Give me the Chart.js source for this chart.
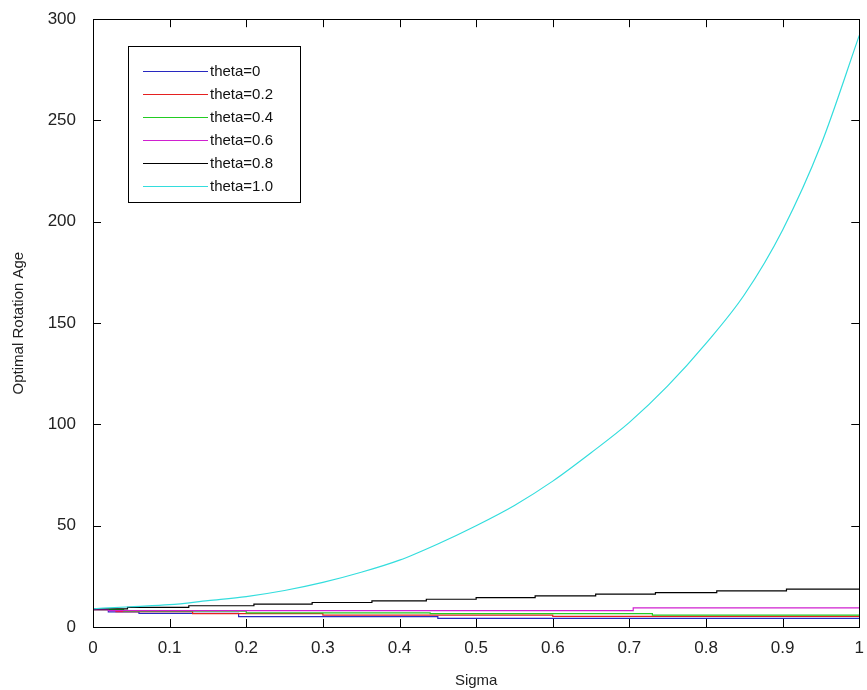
<!DOCTYPE html>
<html>
<head>
<meta charset="utf-8">
<script src="https://cdn.jsdelivr.net/npm/chart.js@4/dist/chart.umd.min.js"></script>
<style>
  html, body { margin: 0; padding: 0; background: #fff; }
  #wrap { width: 867px; height: 690px; }
</style>
</head>
<body>
<div id="wrap"><canvas id="rotationChart" width="867" height="690"></canvas></div>
<script>
// data
var seriesLabels = ['theta=0', 'theta=0.2', 'theta=0.4', 'theta=0.6', 'theta=0.8', 'theta=1.0'];
var seriesColors = ['#2828c0', '#e52020', '#22cc22', '#d020d0', '#000000', '#33dddd'];

var theta0X  = [0, 0.02, 0.06, 0.19, 0.45, 1];
var theta0Y  = [8.6, 7.5, 6.7, 5.1, 4.3, 4.3];
var theta02X = [0, 0.03, 0.13, 0.30, 0.60, 1];
var theta02Y = [8.6, 7.6, 6.6, 5.9, 5.2, 5.2];
var theta04X = [0, 0.04, 0.20, 0.44, 0.73, 1];
var theta04Y = [8.6, 7.8, 7.0, 6.6, 5.9, 5.9];
var theta06X = [0, 0.02, 0.705, 1];
var theta06Y = [8.6, 8.1, 9.4, 9.4];
var theta08X = [0, 0.045, 0.125, 0.21, 0.286, 0.364, 0.435, 0.5, 0.577, 0.656, 0.734, 0.814, 0.905, 1];
var theta08Y = [8.9, 9.7, 10.5, 11.3, 12.1, 12.9, 13.7, 14.5, 15.4, 16.2, 17.0, 17.8, 18.7, 18.7];
var theta1X  = [0, 0.05, 0.1, 0.15, 0.2, 0.25, 0.3, 0.35, 0.4, 0.45, 0.5, 0.55, 0.6, 0.65, 0.7, 0.75, 0.8, 0.85, 0.9, 0.95, 1];
var theta1Y  = [9, 10, 11, 13, 15, 18, 22, 27, 33, 41, 50, 60, 72, 86, 101, 119, 140, 164, 196, 238, 292];

var xTicks = [0, 0.1, 0.2, 0.3, 0.4, 0.5, 0.6, 0.7, 0.8, 0.9, 1];
var yTicks = [0, 50, 100, 150, 200, 250, 300];

function pts(xs, ys) {
     return xs.map(function(v, i) { return {x: v, y: ys[i]}; });
}

var allX = [theta0X, theta02X, theta04X, theta06X, theta08X, theta1X];
var allY = [theta0Y, theta02Y, theta04Y, theta06Y, theta08Y, theta1Y];

var datasets = seriesLabels.map(function(lbl, i) {
     return {
          label: lbl,
          data: pts(allX[i], allY[i]),
          borderColor: seriesColors[i],
          backgroundColor: seriesColors[i],
          borderWidth: 1.2,
          pointRadius: 0,
          showLine: true,
          fill: false,
          stepped: i < 5 ? true : false,
          cubicInterpolationMode: 'monotone',
          order: 6 - i
     };
});

// MATLAB style box, inward ticks and legend inside the axes
var matlabBox = {
     id: 'matlabBox',
     afterDraw: function(chart) {
          var ctx = chart.ctx;
          var a = chart.chartArea;
          var xs = chart.scales.x, ys = chart.scales.y;
          var tl = 8;
          ctx.save();
          ctx.strokeStyle = '#000';
          ctx.lineWidth = 1;
          ctx.strokeRect(Math.round(a.left) + 0.5, Math.round(a.top) + 0.5,
                         Math.round(a.right - a.left), Math.round(a.bottom - a.top));
          ctx.beginPath();
          xTicks.forEach(function(t) {
               var px = Math.round(xs.getPixelForValue(t)) + 0.5;
               ctx.moveTo(px, a.bottom); ctx.lineTo(px, a.bottom - tl);
               ctx.moveTo(px, a.top); ctx.lineTo(px, a.top + tl);
          });
          yTicks.forEach(function(t) {
               var py = Math.round(ys.getPixelForValue(t)) + 0.5;
               ctx.moveTo(a.left, py); ctx.lineTo(a.left + tl, py);
               ctx.moveTo(a.right, py); ctx.lineTo(a.right - tl, py);
          });
          ctx.stroke();

          // legend
          var bx = 128, by = 46, bw = 172, bh = 156, rowH = 23;
          ctx.fillStyle = '#fff';
          ctx.fillRect(bx, by, bw, bh);
          ctx.strokeRect(bx + 0.5, by + 0.5, bw, bh);
          ctx.font = '15px "Liberation Sans", Arial, sans-serif';
          ctx.textBaseline = 'middle';
          ctx.lineWidth = 1.2;
          chart.data.datasets.forEach(function(ds, i) {
               var yy = Math.round(by + 25 + i * rowH) + 0.5;
               ctx.strokeStyle = ds.borderColor;
               ctx.beginPath();
               ctx.moveTo(bx + 15, yy); ctx.lineTo(bx + 80, yy);
               ctx.stroke();
               ctx.fillStyle = '#111';
               ctx.fillText(ds.label, bx + 82, yy);
          });
          ctx.restore();
     }
};

var tickFont = {family: '"Liberation Sans", Arial, sans-serif', size: 17};
var titleFont = {family: '"Liberation Sans", Arial, sans-serif', size: 15};

new Chart(document.getElementById('rotationChart'), {
     type: 'scatter',
     data: { datasets: datasets },
     plugins: [matlabBox],
     options: {
          responsive: false,
          animation: false,
          layout: { padding: { left: 0, top: 18, right: 3, bottom: 0 } },
          plugins: {
               legend: { display: false },
               tooltip: { enabled: false }
          },
          scales: {
               x: {
                    type: 'linear',
                    min: 0,
                    max: 1,
                    afterFit: function(scale) { scale.height = 63; },
                    afterBuildTicks: function(scale) {
                         scale.ticks = xTicks.map(function(v) { return {value: v}; });
                    },
                    grid: { display: false },
                    border: { display: false },
                    ticks: {
                         color: '#222',
                         font: tickFont,
                         padding: 3,
                         maxRotation: 0,
                         callback: function(v) { return String(Math.round(v * 10) / 10); }
                    },
                    title: {
                         display: true,
                         text: 'Sigma',
                         color: '#222',
                         font: titleFont,
                         padding: { top: 0, bottom: 0 }
                    }
               },
               y: {
                    min: 0,
                    max: 300,
                    afterFit: function(scale) { scale.width = 93; },
                    afterBuildTicks: function(scale) {
                         scale.ticks = yTicks.map(function(v) { return {value: v}; });
                    },
                    grid: { display: false },
                    border: { display: false },
                    ticks: {
                         color: '#222',
                         font: tickFont,
                         padding: 9
                    },
                    title: {
                         display: true,
                         text: 'Optimal Rotation Age',
                         color: '#222',
                         font: titleFont,
                         padding: { top: 10, bottom: 0 }
                    }
               }
          }
     }
});
</script>
</body>
</html>
